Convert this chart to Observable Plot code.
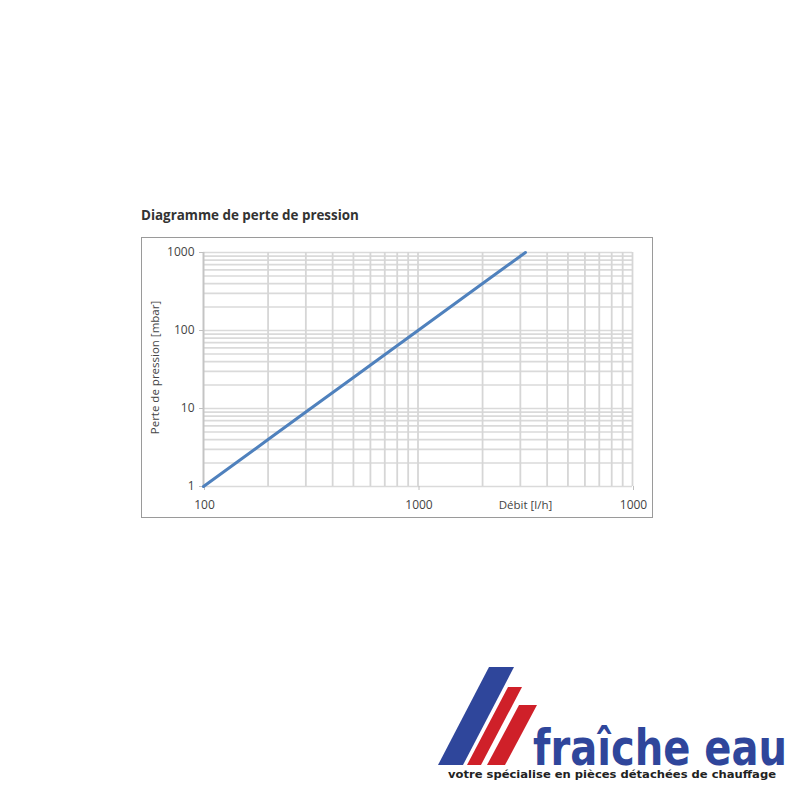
<!DOCTYPE html>
<html lang="fr">
<head>
<meta charset="utf-8">
<script src="https://cdn.jsdelivr.net/npm/d3@7"></script>
<script src="https://cdn.jsdelivr.net/npm/@observablehq/plot@0.6"></script>
<style>
  html, body { margin: 0; padding: 0; background: #fff; }
  #page { position: relative; width: 800px; height: 800px; overflow: hidden; }
  #title { position: absolute; left: 141px; top: 206px; font: 700 13.4px "Open Sans", sans-serif; color: #333; }
  #box { position: absolute; left: 140.5px; top: 236.5px; width: 510px; height: 279px; border: 1px solid #9a9a9a; }
  #chart { position: absolute; left: 0; top: 0; width: 800px; height: 800px; }
  #logo { position: absolute; left: 0; top: 0; }
</style>
</head>
<body>
<div id="page">
  <div id="title">Diagramme de perte de pression</div>
  <div id="box"></div>
  <div id="chart"></div>
  <svg id="logo" width="800" height="800" viewBox="0 0 800 800">
    <polygon points="438,765 489,667 514,667 463,765" fill="#2f469b"></polygon>
    <polygon points="467,765 508,687 522,687 481,765" fill="#cf2029"></polygon>
    <polygon points="487,765 519,705 537,705 505,765" fill="#cf2029"></polygon>
    <text transform="translate(533,765) scale(1,1.4)" font-family="DejaVu Sans" font-weight="700" font-size="35" fill="#2f469b" textLength="254" lengthAdjust="spacingAndGlyphs">fraîche eau</text>
    <text x="448" y="778" font-family="DejaVu Sans" font-weight="700" font-size="11" fill="#222" textLength="328" lengthAdjust="spacingAndGlyphs">votre spécialise en pièces détachées de chauffage</text>
  </svg>
</div>
<script>
const flow = [100, 200, 300, 500, 1000, 2000, 3170];
const pressure = [1, 4, 9, 25, 100, 400, 1000];
const xGrid = [200, 300, 400, 500, 600, 700, 800, 900, 1000, 2000, 3000, 4000, 5000, 6000, 7000, 8000, 9000, 10000];
const yGrid = [1, 2, 3, 4, 5, 6, 7, 8, 9, 10, 20, 30, 40, 50, 60, 70, 80, 90, 100, 200, 300, 400, 500, 600, 700, 800, 900, 1000];
const xTicks = [100, 1000, 10000];
const xTickLabels = ["100", "1000", "1000"];
const yTicks = [1, 10, 100, 1000];
const xAxisLabel = ["Débit [l/h]"];
const xAxisLabelAt = [3170];
const yAxisLabel = ["Perte de pression [mbar]"];
const yAxisLabelAt = [33.5];

const font = "'Open Sans', sans-serif";
const chart = Plot.plot({
  width: 800,
  height: 800,
  marginLeft: 203,
  marginRight: 168,
  marginTop: 252,
  marginBottom: 314,
  style: { background: "transparent", fontFamily: font, fontSize: "12px", color: "#444" },
  x: { type: "log", domain: [100, 10000], axis: null },
  y: { type: "log", domain: [1, 1000], axis: null },
  marks: [
    Plot.ruleY(yGrid, { stroke: "#dadada", strokeWidth: 1.7 }),
    Plot.ruleX(xGrid, { stroke: "#d6d6d6", strokeWidth: 1.8 }),
    Plot.ruleX([100], { stroke: "#c4c4c4", strokeWidth: 2 }),
    Plot.axisX({ ticks: xTicks, tickSize: 4, tickPadding: 10, dx: 1, fontSize: 12, stroke: "#c0c0c0", color: "#444", tickFormat: (d) => xTickLabels[xTicks.indexOf(d)], label: null }),
    Plot.axisY({ ticks: yTicks, tickSize: 4, tickPadding: 5, fontSize: 12, stroke: "#c0c0c0", color: "#444", tickFormat: (d) => String(d), label: null }),
    Plot.text(xAxisLabelAt, { x: (d) => d, frameAnchor: "bottom", dy: 22, text: (d, i) => xAxisLabel[i], fontSize: 11.5, fill: "#444" }),
    Plot.text(yAxisLabelAt, { y: (d) => d, frameAnchor: "left", textAnchor: "middle", dx: -48, rotate: -90, text: (d, i) => yAxisLabel[i], fontSize: 11.5, fill: "#444" }),
    Plot.line(flow.map((q, i) => ({ q, p: pressure[i] })), { x: "q", y: "p", stroke: "#4f81bd", strokeWidth: 3 })
  ]
});
document.getElementById("chart").appendChild(chart);
</script>
</body>
</html>
